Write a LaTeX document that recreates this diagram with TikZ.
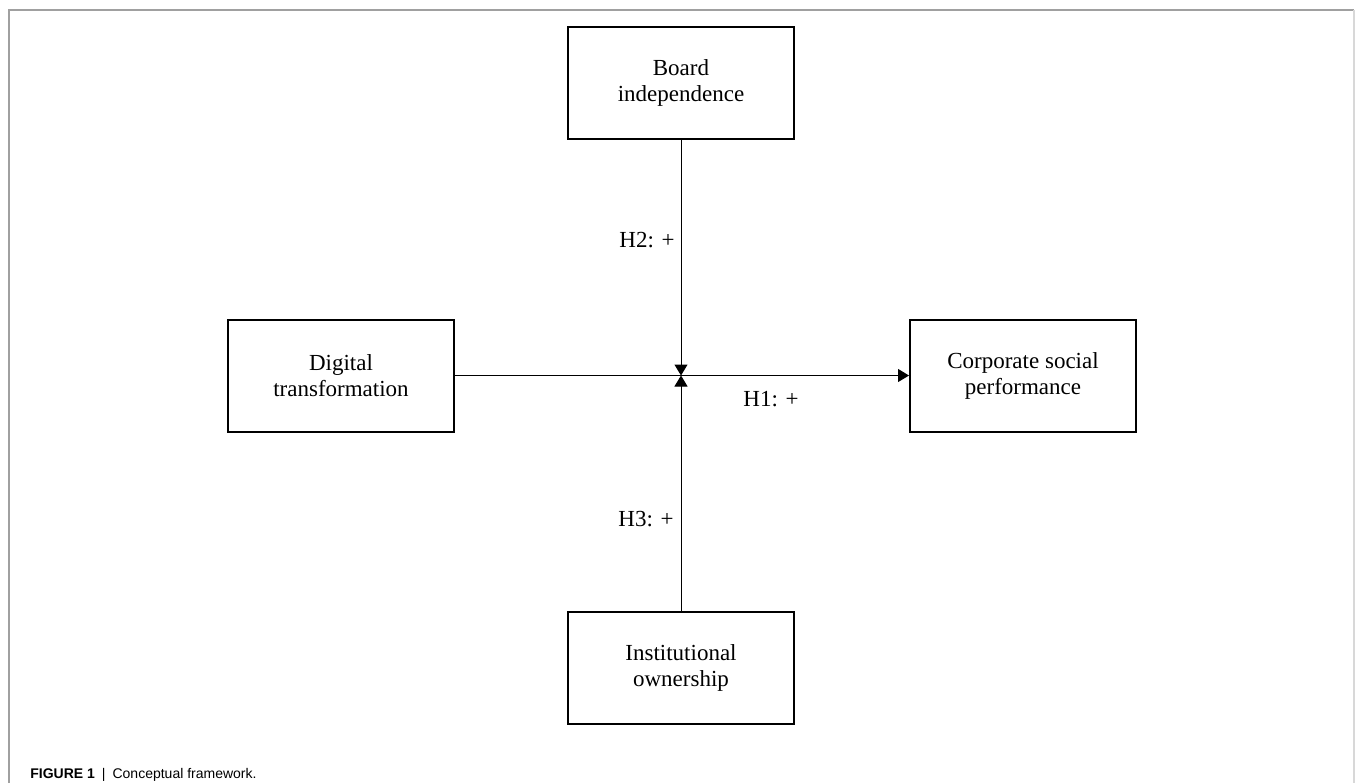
\documentclass[tikz,border=0pt]{standalone}
\usepackage{fontspec}
\setmainfont{Liberation Serif}
\setsansfont{Liberation Sans}
\usetikzlibrary{arrows.meta}
\definecolor{framegray}{HTML}{A0A0A0}
\definecolor{framelight}{HTML}{D8D8D8}
\tikzset{
  varbox/.style={draw, line width=1pt, minimum width=113pt, minimum height=56pt,
    align=center, inner sep=0pt, font=\fontsize{11.5}{13}\selectfont},
  hyplabel/.style={inner sep=0pt, font=\fontsize{11.5}{13}\selectfont},
  link/.style={line width=0.5pt, -{Triangle[length=5.5pt,width=6.5pt]}}
}
\begin{document}
\begin{tikzpicture}[x=0.5pt,y=-0.5pt]
    \useasboundingbox (0,0) rectangle (1355,783);
    % frame of the figure
    \draw[framegray, line width=0.75pt] (9,783) -- (9,10) -- (1354,10);
    \draw[framelight, line width=0.75pt] (1354,10) -- (1354,783);
    % variables
    \node[varbox] (board) at (681,82.5) {Board\\independence};
    \node[varbox] (digital) at (341,375.5) {Digital\\transformation};
    \node[varbox] (csp) at (1023,375.5) {Corporate social\\performance};
    \node[varbox] (inst) at (681,667.5) {Institutional\\ownership};
    \coordinate (mid) at (681,375.5);
    % hypotheses
    \draw[link] (digital.east) -- (csp.west);
    \draw[link] (board.south) -- (mid);
    \draw[link] (inst.north) -- (mid);
    \node[hyplabel, anchor=base east] (h2) at (675,247) {H2: +};
    \node[hyplabel, anchor=base west] (h1) at (743,406) {H1: +};
    \node[hyplabel, anchor=base east] (h3) at (674,526) {H3: +};
    % caption
    \node[anchor=base west, inner sep=0pt, font=\sffamily\fontsize{7}{8}\selectfont] (caption) at (30,778)
      {\textbf{FIGURE 1}\enspace|\enspace Conceptual framework.};
\end{tikzpicture}
\end{document}
